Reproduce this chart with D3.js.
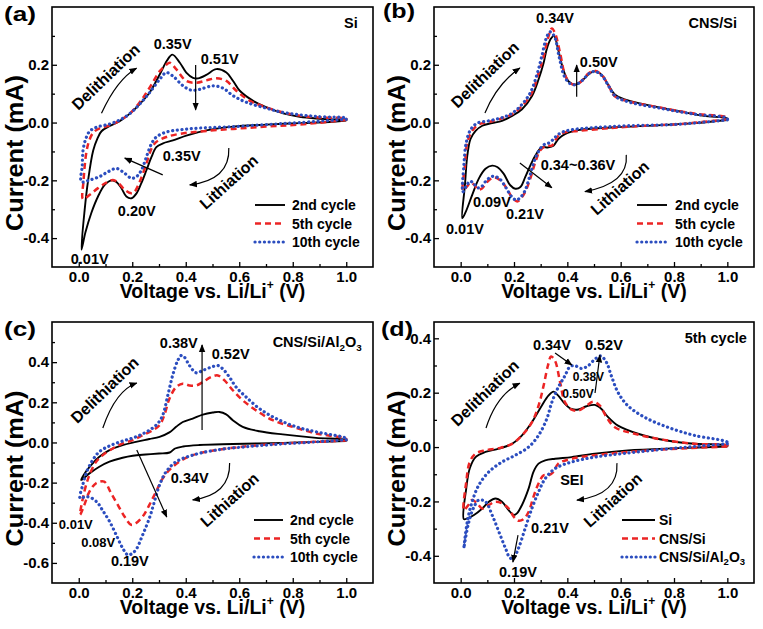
<!DOCTYPE html>
<html><head><meta charset="utf-8">
<script src="https://cdn.jsdelivr.net/npm/d3@7"></script>
<style>
body{margin:0;background:#fff}
text{font-family:"Liberation Sans",Arial,sans-serif;font-weight:bold;fill:#000}
</style>
</head><body>
<svg id="c" width="763" height="629"></svg>
<script>
// ---------- DATA (Voltage V, Current mA); each loop: cathodic sweep 1.0 -> 0.01 V, then anodic back ----------
const xMajor = [0, 0.2, 0.4, 0.6, 0.8, 1.0];
const xMinor = [0.1, 0.3, 0.5, 0.7, 0.9];
const cycleNames = ["2nd cycle", "5th cycle", "10th cycle"];
const materialNames = ["Si", "CNS/Si", "CNS/Si/Al2O3"];

const a2 = [[1.0,0.007],[0.95,0.003],[0.826,-0.002],[0.70,-0.007],[0.577,-0.014],[0.477,-0.027],[0.402,-0.045],[0.352,-0.062],[0.315,-0.072],[0.29,-0.085],[0.272,-0.119],[0.253,-0.165],[0.234,-0.21],[0.216,-0.245],[0.197,-0.262],[0.178,-0.256],[0.16,-0.228],[0.141,-0.206],[0.122,-0.2],[0.097,-0.216],[0.072,-0.256],[0.047,-0.313],[0.025,-0.38],[0.01,-0.44],
 [0.022,-0.303],[0.035,-0.2],[0.054,-0.097],[0.07,-0.055],[0.085,-0.03],[0.116,-0.012],[0.153,0.005],[0.19,0.03],[0.228,0.064],[0.265,0.104],[0.303,0.167],[0.33,0.215],[0.35,0.235],[0.378,0.207],[0.402,0.173],[0.427,0.155],[0.446,0.153],[0.477,0.165],[0.514,0.185],[0.552,0.173],[0.577,0.144],[0.602,0.11],[0.652,0.075],[0.70,0.053],[0.764,0.032],[0.826,0.02],[0.888,0.014],[0.95,0.011],[1.0,0.01]];
const a5 = [[1.0,0.009],[0.826,-0.007],[0.70,-0.014],[0.577,-0.022],[0.452,-0.031],[0.378,-0.039],[0.327,-0.05],[0.29,-0.067],[0.272,-0.09],[0.253,-0.142],[0.228,-0.205],[0.209,-0.239],[0.197,-0.245],[0.172,-0.233],[0.147,-0.208],[0.128,-0.199],[0.103,-0.208],[0.072,-0.227],[0.041,-0.25],[0.016,-0.265],
 [0.018,-0.2],[0.029,-0.1],[0.04,-0.06],[0.054,-0.035],[0.078,-0.02],[0.116,-0.01],[0.153,0.007],[0.19,0.03],[0.228,0.07],[0.265,0.121],[0.303,0.178],[0.327,0.2],[0.34,0.207],[0.365,0.184],[0.402,0.144],[0.44,0.138],[0.477,0.146],[0.514,0.153],[0.552,0.144],[0.589,0.11],[0.64,0.075],[0.70,0.053],[0.764,0.035],[0.826,0.024],[0.888,0.018],[1.0,0.013]];
const a10 = [[1.0,0.011],[0.826,0.0],[0.70,-0.007],[0.577,-0.014],[0.452,-0.019],[0.378,-0.025],[0.327,-0.033],[0.29,-0.05],[0.272,-0.073],[0.253,-0.119],[0.234,-0.165],[0.216,-0.187],[0.197,-0.193],[0.172,-0.176],[0.141,-0.159],[0.11,-0.17],[0.078,-0.187],[0.041,-0.199],[0.01,-0.205],
 [0.013,-0.15],[0.016,-0.097],[0.025,-0.06],[0.041,-0.03],[0.07,-0.015],[0.116,-0.005],[0.153,0.009],[0.19,0.03],[0.228,0.064],[0.265,0.104],[0.303,0.15],[0.327,0.173],[0.352,0.161],[0.39,0.127],[0.421,0.112],[0.452,0.115],[0.502,0.127],[0.539,0.119],[0.577,0.093],[0.627,0.07],[0.70,0.05],[0.764,0.035],[0.888,0.021],[1.0,0.015]];

const b2 = [[1.0,0.009],[0.876,-0.002],[0.752,-0.009],[0.565,-0.017],[0.441,-0.026],[0.391,-0.04],[0.366,-0.057],[0.348,-0.08],[0.329,-0.086],[0.304,-0.086],[0.28,-0.114],[0.261,-0.149],[0.242,-0.189],[0.224,-0.223],[0.205,-0.229],[0.186,-0.217],[0.161,-0.177],[0.137,-0.154],[0.118,-0.149],[0.093,-0.16],[0.068,-0.194],[0.043,-0.251],[0.019,-0.309],[0.006,-0.331],
 [0.016,-0.217],[0.025,-0.114],[0.037,-0.057],[0.056,-0.029],[0.081,-0.011],[0.118,-0.002],[0.155,0.006],[0.193,0.023],[0.23,0.046],[0.267,0.091],[0.292,0.149],[0.311,0.206],[0.323,0.255],[0.338,0.29],[0.35,0.3],[0.366,0.251],[0.385,0.183],[0.404,0.143],[0.429,0.131],[0.453,0.143],[0.478,0.166],[0.503,0.177],[0.528,0.166],[0.553,0.131],[0.578,0.097],[0.615,0.08],[0.689,0.063],[0.814,0.04],[0.913,0.023],[1.0,0.014]];
const b5 = [[1.0,0.011],[0.814,-0.006],[0.689,-0.011],[0.565,-0.019],[0.441,-0.029],[0.391,-0.034],[0.366,-0.046],[0.354,-0.063],[0.342,-0.08],[0.323,-0.08],[0.298,-0.097],[0.28,-0.137],[0.261,-0.194],[0.242,-0.24],[0.224,-0.265],[0.212,-0.273],[0.193,-0.26],[0.174,-0.23],[0.149,-0.2],[0.125,-0.19],[0.1,-0.205],[0.08,-0.228],[0.065,-0.232],[0.05,-0.215],[0.037,-0.208],[0.025,-0.22],[0.009,-0.235],
 [0.016,-0.149],[0.025,-0.069],[0.043,-0.029],[0.068,-0.006],[0.106,0.002],[0.143,0.011],[0.193,0.029],[0.23,0.057],[0.267,0.103],[0.292,0.171],[0.311,0.229],[0.329,0.297],[0.342,0.326],[0.354,0.309],[0.373,0.24],[0.391,0.166],[0.41,0.137],[0.429,0.131],[0.453,0.143],[0.478,0.169],[0.503,0.179],[0.528,0.166],[0.553,0.131],[0.578,0.091],[0.627,0.074],[0.752,0.051],[0.876,0.031],[1.0,0.017]];
const b10 = [[1.0,0.009],[0.814,-0.006],[0.627,-0.011],[0.503,-0.017],[0.416,-0.025],[0.379,-0.034],[0.354,-0.051],[0.335,-0.069],[0.317,-0.074],[0.298,-0.091],[0.277,-0.131],[0.258,-0.189],[0.24,-0.238],[0.22,-0.263],[0.207,-0.268],[0.19,-0.255],[0.168,-0.223],[0.145,-0.194],[0.12,-0.186],[0.097,-0.2],[0.078,-0.222],[0.063,-0.226],[0.048,-0.21],[0.035,-0.203],[0.022,-0.218],[0.008,-0.24],
 [0.012,-0.149],[0.021,-0.069],[0.037,-0.025],[0.062,-0.002],[0.106,0.006],[0.155,0.017],[0.193,0.032],[0.23,0.063],[0.261,0.103],[0.286,0.166],[0.304,0.229],[0.323,0.297],[0.335,0.314],[0.352,0.297],[0.369,0.229],[0.389,0.16],[0.41,0.135],[0.431,0.131],[0.456,0.146],[0.481,0.169],[0.503,0.177],[0.53,0.162],[0.555,0.126],[0.58,0.091],[0.627,0.072],[0.752,0.049],[0.876,0.029],[1.0,0.015]];

const c2 = [[1.0,0.007],[0.887,0.003],[0.763,-0.002],[0.576,-0.008],[0.451,-0.013],[0.39,-0.02],[0.36,-0.03],[0.34,-0.05],[0.3,-0.055],[0.25,-0.06],[0.202,-0.066],[0.164,-0.076],[0.115,-0.096],[0.077,-0.121],[0.04,-0.154],[0.009,-0.187],
 [0.027,-0.145],[0.052,-0.104],[0.077,-0.071],[0.115,-0.038],[0.164,-0.013],[0.214,0.003],[0.264,0.017],[0.302,0.028],[0.339,0.05],[0.364,0.078],[0.389,0.102],[0.426,0.119],[0.464,0.139],[0.501,0.149],[0.526,0.152],[0.551,0.14],[0.576,0.111],[0.613,0.078],[0.675,0.056],[0.763,0.04],[0.887,0.023],[1.0,0.012]];
const c5 = [[1.0,0.01],[0.887,0.003],[0.763,-0.005],[0.638,-0.018],[0.513,-0.038],[0.426,-0.063],[0.376,-0.096],[0.339,-0.137],[0.314,-0.179],[0.289,-0.245],[0.264,-0.311],[0.239,-0.369],[0.214,-0.402],[0.196,-0.41],[0.171,-0.369],[0.146,-0.311],[0.121,-0.253],[0.095,-0.195],[0.065,-0.203],[0.04,-0.245],[0.021,-0.311],[0.005,-0.36],
 [0.021,-0.245],[0.04,-0.162],[0.065,-0.096],[0.09,-0.063],[0.127,-0.03],[0.164,-0.005],[0.202,0.012],[0.239,0.036],[0.277,0.061],[0.302,0.086],[0.32,0.136],[0.339,0.218],[0.364,0.276],[0.389,0.293],[0.414,0.284],[0.439,0.284],[0.464,0.301],[0.495,0.326],[0.52,0.334],[0.545,0.309],[0.576,0.26],[0.613,0.21],[0.663,0.16],[0.725,0.111],[0.8,0.078],[0.887,0.045],[1.0,0.017]];
const c10 = [[1.0,0.013],[0.887,0.003],[0.763,-0.007],[0.638,-0.02],[0.513,-0.038],[0.426,-0.063],[0.364,-0.096],[0.327,-0.145],[0.302,-0.212],[0.283,-0.294],[0.264,-0.377],[0.239,-0.46],[0.214,-0.534],[0.196,-0.556],[0.183,-0.56],[0.164,-0.526],[0.14,-0.46],[0.115,-0.393],[0.09,-0.34],[0.07,-0.3],[0.045,-0.275],[0.025,-0.27],[0.005,-0.278],
 [0.015,-0.212],[0.03,-0.145],[0.052,-0.088],[0.077,-0.046],[0.115,-0.017],[0.164,0.007],[0.214,0.028],[0.264,0.061],[0.295,0.094],[0.314,0.136],[0.333,0.235],[0.351,0.334],[0.37,0.408],[0.383,0.433],[0.395,0.425],[0.414,0.383],[0.439,0.347],[0.464,0.359],[0.495,0.375],[0.52,0.383],[0.538,0.367],[0.563,0.326],[0.588,0.276],[0.626,0.226],[0.675,0.169],[0.738,0.119],[0.813,0.078],[0.887,0.053],[1.0,0.02]];

const dSi = [[1.0,0.002],[0.814,-0.004],[0.627,-0.012],[0.503,-0.024],[0.416,-0.037],[0.354,-0.043],[0.317,-0.049],[0.292,-0.061],[0.273,-0.091],[0.255,-0.152],[0.23,-0.213],[0.211,-0.244],[0.199,-0.25],[0.18,-0.232],[0.155,-0.201],[0.13,-0.189],[0.106,-0.201],[0.081,-0.226],[0.05,-0.25],[0.025,-0.262],[0.012,-0.265],
 [0.021,-0.152],[0.034,-0.079],[0.056,-0.037],[0.093,-0.018],[0.143,-0.006],[0.193,0.012],[0.23,0.043],[0.267,0.091],[0.304,0.152],[0.329,0.189],[0.348,0.204],[0.366,0.189],[0.391,0.159],[0.416,0.14],[0.441,0.138],[0.472,0.15],[0.503,0.155],[0.528,0.14],[0.553,0.11],[0.59,0.079],[0.665,0.049],[0.752,0.028],[0.876,0.012],[1.0,0.006]];
const dCNS = [[1.0,0.002],[0.814,-0.006],[0.627,-0.018],[0.503,-0.03],[0.416,-0.043],[0.366,-0.061],[0.348,-0.091],[0.329,-0.104],[0.311,-0.104],[0.292,-0.134],[0.273,-0.183],[0.255,-0.238],[0.236,-0.265],[0.217,-0.271],[0.199,-0.256],[0.18,-0.226],[0.155,-0.207],[0.13,-0.201],[0.106,-0.213],[0.081,-0.226],[0.062,-0.207],[0.043,-0.195],[0.029,-0.213],[0.012,-0.232],
 [0.021,-0.128],[0.034,-0.055],[0.056,-0.024],[0.093,-0.012],[0.143,-0.004],[0.193,0.012],[0.23,0.043],[0.267,0.091],[0.292,0.152],[0.311,0.226],[0.327,0.299],[0.339,0.333],[0.354,0.317],[0.373,0.238],[0.391,0.165],[0.416,0.138],[0.441,0.134],[0.472,0.152],[0.497,0.167],[0.522,0.152],[0.547,0.11],[0.578,0.073],[0.652,0.049],[0.752,0.028],[0.876,0.012],[1.0,0.006]];
const dAl = [[1.0,0.012],[0.876,0.002],[0.752,-0.009],[0.627,-0.022],[0.503,-0.037],[0.416,-0.055],[0.354,-0.079],[0.317,-0.116],[0.292,-0.165],[0.267,-0.226],[0.242,-0.299],[0.217,-0.372],[0.199,-0.406],[0.186,-0.409],[0.168,-0.372],[0.143,-0.311],[0.118,-0.25],[0.093,-0.201],[0.068,-0.195],[0.05,-0.22],[0.031,-0.274],[0.016,-0.348],[0.012,-0.372],
 [0.025,-0.274],[0.043,-0.201],[0.068,-0.14],[0.106,-0.091],[0.155,-0.055],[0.205,-0.03],[0.255,0.0],[0.292,0.043],[0.323,0.104],[0.342,0.165],[0.366,0.22],[0.391,0.262],[0.41,0.296],[0.429,0.299],[0.453,0.289],[0.478,0.299],[0.503,0.323],[0.525,0.335],[0.547,0.311],[0.565,0.262],[0.59,0.201],[0.627,0.152],[0.689,0.11],[0.776,0.073],[0.876,0.043],[1.0,0.018]];

// ---------- STYLES ----------
const styles = [
  {stroke:"#000000", width:1.9, dash:null, cap:"butt"},
  {stroke:"#ec2424", width:2.5, dash:"6,4", cap:"butt"},
  {stroke:"#2b4dbf", width:3.2, dash:"0.1,4.6", cap:"round"}
];

const panels = [
  {label:"(a)", lx:4, ly:21, left:52, top:7, w:321, h:260, yd:[-0.5,0.4], yMaj:[-0.4,-0.2,0,0.2], yMin:[-0.3,-0.1,0.1,0.3],
   series:[a2,a5,a10], names:cycleNames, legX:81, legLine:[118,88],
   ann:[
    {t:"Si", v:1.043, i:0.327, a:"end"},
    {t:"0.35V", v:0.351, i:0.255},
    {t:"0.51V", v:0.527, i:0.203},
    {t:"0.35V", v:0.385, i:-0.133},
    {t:"0.20V", v:0.217, i:-0.323},
    {t:"0.01V", v:0.041, i:-0.489},
    {t:"Delithiation", v:0.101, i:0.158, r:-44, s:16},
    {t:"Lithiation", v:0.561, i:-0.206, r:-42, s:16}],
   arr:[
    {p:[[0.085,0.032],[0.147,0.13],[0.216,0.188]]},
    {p:[[0.437,0.199],[0.437,0.044]]},
    {p:[[0.314,-0.181],[0.172,-0.123]]},
    {p:[[0.561,-0.088],[0.527,-0.175],[0.415,-0.216]]}]},
  {label:"(b)", lx:383, ly:18, left:434, top:7, w:320, h:260, yd:[-0.5,0.4], yMaj:[-0.4,-0.2,0,0.2], yMin:[-0.3,-0.1,0.1,0.3],
   series:[b2,b5,b10], names:cycleNames, legX:79, legLine:[117,87],
   ann:[
    {t:"CNS/Si", v:1.036, i:0.327, a:"end"},
    {t:"0.34V", v:0.354, i:0.345},
    {t:"0.50V", v:0.447, i:0.192, a:"start"},
    {t:"0.34~0.36V", v:0.44, i:-0.164},
    {t:"0.09V", v:0.117, i:-0.292},
    {t:"0.21V", v:0.241, i:-0.334},
    {t:"0.01V", v:0.016, i:-0.386},
    {t:"Delithiation", v:0.091, i:0.165, r:-44, s:16},
    {t:"Lithiation", v:0.597, i:-0.226, r:-42, s:16}],
   arr:[
    {p:[[0.091,0.033],[0.147,0.123],[0.222,0.189]]},
    {p:[[0.435,0.089],[0.435,0.199]]},
    {p:[[0.222,-0.14],[0.342,-0.226]]},
    {p:[[0.621,-0.112],[0.587,-0.193],[0.466,-0.239]]}]},
  {label:"(c)", lx:4, ly:336, left:52, top:322, w:321, h:261, yd:[-0.7,0.6], yMaj:[-0.6,-0.4,-0.2,0,0.2,0.4], yMin:[-0.5,-0.3,-0.1,0.1,0.3,0.5],
   series:[c2,c5,c10], names:cycleNames, legX:83, legLine:[119,90],
   ann:[
    {t:"CNS/Si/Al|2|O|3", v:1.058, i:0.477, a:"end"},
    {t:"0.38V", v:0.374, i:0.471},
    {t:"0.52V", v:0.568, i:0.416},
    {t:"0.34V", v:0.415, i:-0.202},
    {t:"0.01V", v:-0.011, i:-0.431, s:13},
    {t:"0.08V", v:0.073, i:-0.52, s:13},
    {t:"0.19V", v:0.191, i:-0.615},
    {t:"Delithiation", v:0.097, i:0.261, r:-44, s:16},
    {t:"Lithiation", v:0.564, i:-0.286, r:-42, s:16}],
   arr:[
    {p:[[0.09,0.072],[0.146,0.222],[0.217,0.296]]},
    {p:[[0.461,0.062],[0.461,0.486]]},
    {p:[[0.217,-0.037],[0.329,-0.371]]},
    {p:[[0.564,-0.102],[0.531,-0.227],[0.426,-0.286]]}]},
  {label:"(d)", lx:381, ly:336, left:434, top:322, w:320, h:261, yd:[-0.5,0.46], yMaj:[-0.4,-0.2,0,0.2,0.4], yMin:[-0.3,-0.1,0.1,0.3],
   series:[dSi,dCNS,dAl], names:materialNames, legX:95, legLine:[132,99],
   ann:[
    {t:"5th cycle", v:1.073, i:0.382, a:"end"},
    {t:"0.34V", v:0.342, i:0.357},
    {t:"0.52V", v:0.537, i:0.357},
    {t:"0.38V", v:0.479, i:0.243, s:12},
    {t:"0.50V", v:0.44, i:0.18, s:12},
    {t:"SEI", v:0.417, i:-0.14},
    {t:"0.21V", v:0.335, i:-0.316},
    {t:"0.19V", v:0.215, i:-0.478},
    {t:"Delithiation", v:0.091, i:0.199, r:-44, s:16},
    {t:"Lithiation", v:0.571, i:-0.195, r:-42, s:16}],
   arr:[
    {p:[[0.095,0.07],[0.147,0.173],[0.222,0.235]]},
    {p:[[0.354,0.346],[0.417,0.302]]},
    {p:[[0.504,0.199],[0.522,0.338]]},
    {p:[[0.215,-0.324],[0.196,-0.423]]},
    {p:[[0.586,-0.059],[0.552,-0.151],[0.436,-0.195]]}]}
];

// ---------- DRAW ----------
const svg = d3.select("#c");
svg.append("rect").attr("width",763).attr("height",629).attr("fill","#fff");
svg.append("defs").append("marker").attr("id","ah").attr("viewBox","0 0 10 10")
  .attr("refX",9).attr("refY",5).attr("markerWidth",8).attr("markerHeight",8)
  .attr("markerUnits","userSpaceOnUse").attr("orient","auto")
  .append("path").attr("d","M0,1 L10,5 L0,9 z").attr("fill","#000");

const fmt = d => (Math.abs(d) < 1e-9 ? 0 : d).toFixed(1);

function addText(g, str, size) {
  // "|" separated parts: odd parts are subscripts
  const parts = str.split("|");
  if (parts.length === 1) { g.text(str); return; }
  parts.forEach((p, k) => {
    const ts = g.append("tspan").text(p);
    if (k % 2 === 1) ts.attr("font-size", size * 0.68).attr("dy", size * 0.3);
    else if (k > 0) ts.attr("dy", -size * 0.3);
  });
}

panels.forEach(P => {
  const g = svg.append("g");
  const x = d3.scaleLinear().domain([-0.1, 1.1]).range([P.left, P.left + P.w]);
  const y = d3.scaleLinear().domain(P.yd).range([P.top + P.h, P.top]);

  // axes (ticks inward)
  const gx = g.append("g").attr("transform", `translate(0,${P.top + P.h})`)
    .call(d3.axisBottom(x).tickValues(xMajor).tickFormat(fmt).tickSizeInner(-5).tickSizeOuter(0).tickPadding(4.5));
  const gxm = g.append("g").attr("transform", `translate(0,${P.top + P.h})`)
    .call(d3.axisBottom(x).tickValues(xMinor).tickFormat("").tickSizeInner(-3).tickSizeOuter(0));
  const gy = g.append("g").attr("transform", `translate(${P.left},0)`)
    .call(d3.axisLeft(y).tickValues(P.yMaj).tickFormat(fmt).tickSizeInner(-5).tickSizeOuter(0).tickPadding(3));
  const gym = g.append("g").attr("transform", `translate(${P.left},0)`)
    .call(d3.axisLeft(y).tickValues(P.yMin).tickFormat("").tickSizeInner(-3).tickSizeOuter(0));
  [gx, gxm, gy, gym].forEach(a => {
    a.select(".domain").remove();
    a.selectAll("line").attr("stroke", "#000").attr("stroke-width", 1.3);
    a.selectAll("text").attr("font-size", 15).attr("font-family", "Liberation Sans, Arial, sans-serif").attr("font-weight", "bold").attr("fill", "#000");
  });

  // curves
  const line = d3.line().x(d => x(d[0])).y(d => y(d[1])).curve(d3.curveCatmullRom.alpha(0.5));
  P.series.forEach((s, k) => {
    const st = styles[k];
    g.append("path").attr("d", line(s.concat([s[0]])))
      .attr("fill", "none").attr("stroke", st.stroke).attr("stroke-width", st.width)
      .attr("stroke-dasharray", st.dash).attr("stroke-linecap", st.cap).attr("stroke-linejoin", "round");
  });

  // frame
  g.append("rect").attr("x", P.left).attr("y", P.top).attr("width", P.w).attr("height", P.h)
    .attr("fill", "none").attr("stroke", "#000").attr("stroke-width", 1.6);

  // axis titles
  const xt = g.append("text").attr("x", P.left + P.w / 2).attr("y", P.top + P.h + 31)
    .attr("text-anchor", "middle").attr("font-size", 19.5);
  xt.append("tspan").text("Voltage vs. Li/Li");
  xt.append("tspan").text("+").attr("font-size", 12).attr("dy", -9);
  xt.append("tspan").text(" (V)").attr("dy", 9);

  const ycx = P.left - 37, ycy = P.top + P.h / 2 + 16;
  g.append("text").attr("transform", `translate(${ycx},${ycy}) rotate(-90)`)
    .attr("text-anchor", "middle").attr("dominant-baseline", "central").attr("font-size", 23)
    .attr("textLength", 156).attr("lengthAdjust", "spacingAndGlyphs").text("Current (mA)");

  // panel label
  g.append("text").attr("x", P.lx).attr("y", P.ly).attr("font-size", 21)
    .attr("textLength", 32).attr("lengthAdjust", "spacingAndGlyphs").text(P.label);

  // annotations
  P.ann.forEach(A => {
    const size = A.s || 14.5;
    const t = g.append("text").attr("font-size", size).attr("text-anchor", A.a || "middle");
    if (A.r !== undefined) {
      t.attr("transform", `translate(${x(A.v)},${y(A.i)}) rotate(${A.r})`).attr("dominant-baseline", "central");
    } else {
      t.attr("x", x(A.v)).attr("y", y(A.i));
    }
    addText(t, A.t, size);
  });
  P.arr.forEach(A => {
    const pts = A.p.map(d => [x(d[0]), y(d[1])]);
    const pa = d3.path();
    pa.moveTo(pts[0][0], pts[0][1]);
    if (pts.length === 2) {
      pa.lineTo(pts[1][0], pts[1][1]);
    } else {
      // quadratic arc through the middle point
      const cx = 2 * pts[1][0] - (pts[0][0] + pts[2][0]) / 2;
      const cy = 2 * pts[1][1] - (pts[0][1] + pts[2][1]) / 2;
      pa.quadraticCurveTo(cx, cy, pts[2][0], pts[2][1]);
    }
    g.append("path").attr("d", pa.toString()).attr("fill", "none").attr("stroke", "#000")
      .attr("stroke-width", 1.2).attr("marker-end", "url(#ah)");
  });

  // legend
  const right = P.left + P.w;
  const rows = [198, 216.5, 235];
  P.names.forEach((n, k) => {
    const st = styles[k];
    const yy = P.top + rows[k];
    g.append("line").attr("x1", right - P.legLine[0]).attr("x2", right - P.legLine[1])
      .attr("y1", yy).attr("y2", yy).attr("stroke", st.stroke).attr("stroke-width", st.width)
      .attr("stroke-dasharray", st.dash).attr("stroke-linecap", st.cap);
    const t = g.append("text").attr("x", right - P.legX).attr("y", yy).attr("dominant-baseline", "central")
      .attr("font-size", 14);
    if (n === "CNS/Si/Al2O3") addText(t, "CNS/Si/Al|2|O|3", 14); else t.text(n);
  });
});
</script>
</body></html>
